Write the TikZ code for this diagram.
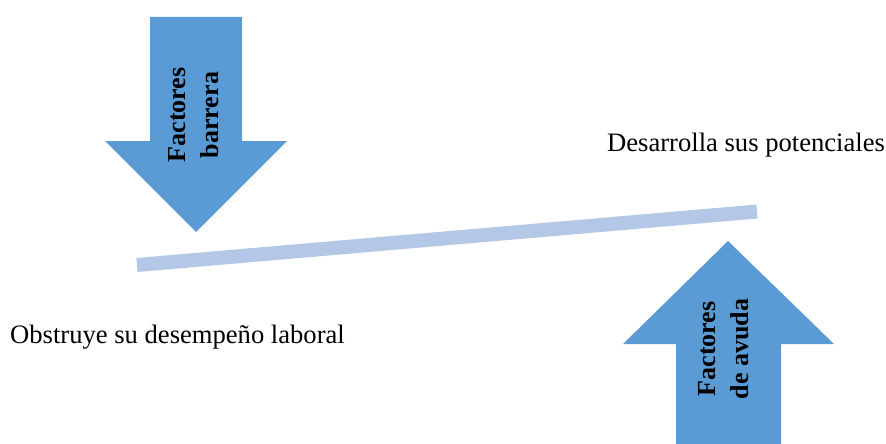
\documentclass[tikz,border=0pt]{standalone}
\usepackage{fontspec}
\setmainfont{Liberation Serif}
\definecolor{arrowblue}{HTML}{5B9BD5}
\definecolor{barblue}{HTML}{B4C7E7}
\tikzset{
  arrowtext/.style={rotate=90, align=center, font=\fontsize{26}{33}\selectfont\bfseries},
  labeltext/.style={anchor=base west, inner sep=0pt, font=\fontsize{26.6}{30}\selectfont}
}
\begin{document}
\begin{tikzpicture}[x=1pt,y=-1pt]
\useasboundingbox (0,0) rectangle (886,444);

% down arrow
\fill[arrowblue] (150,17) -- (242,17) -- (242,141) -- (287,141) -- (196,232) -- (105,141) -- (150,141) -- cycle;
\node[arrowtext] (barrera) at (194,115) {Factores\\barrera};

% up arrow
\fill[arrowblue] (676,444) -- (781,444) -- (781,344) -- (834,344) -- (728,241) -- (623,344) -- (676,344) -- cycle;
\node[arrowtext] (ayuda) at (724,349) {Factores\\de avuda};

% the bar
\coordinate (barleft) at (137,265);
\coordinate (barright) at (757,211.5);
\draw[barblue, line width=14pt] (barleft) -- (barright);

\node[labeltext] (potenciales) at (607,151) {Desarrolla sus potenciales};
\node[labeltext] (laboral) at (10,343) {Obstruye su desempeño laboral};

\end{tikzpicture}
\end{document}
